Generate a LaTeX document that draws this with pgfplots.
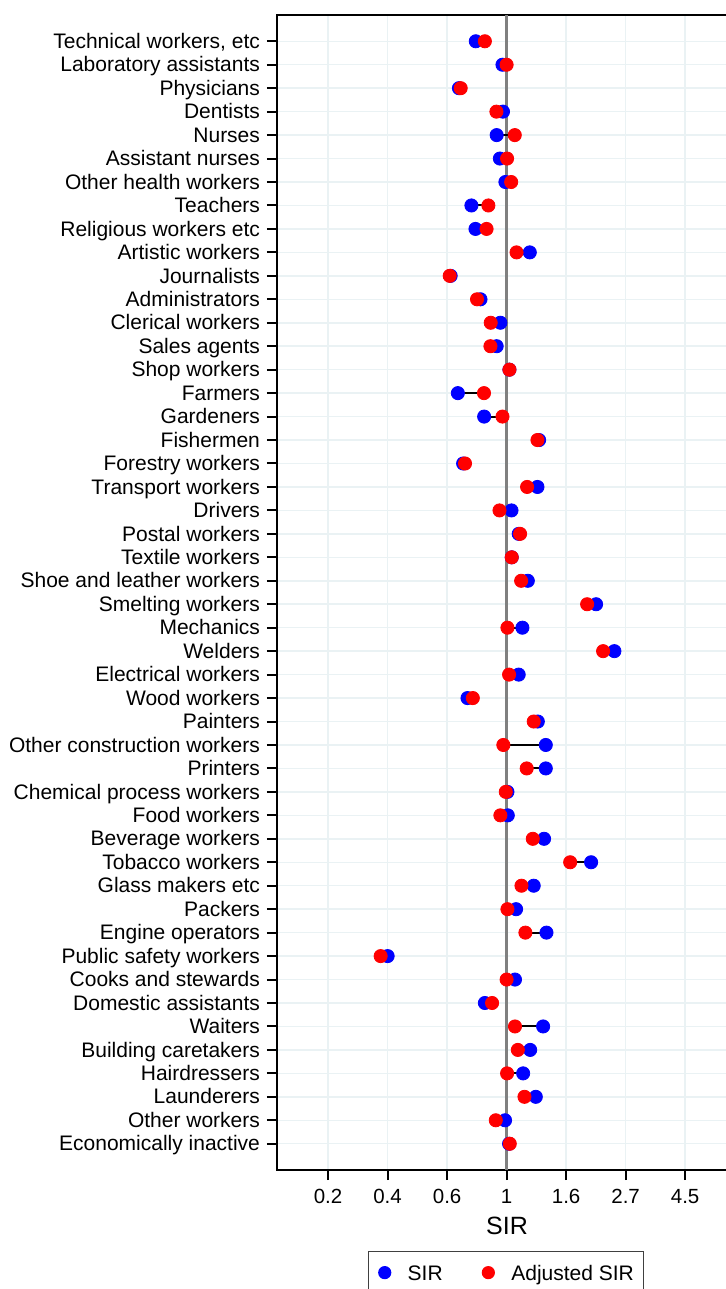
\documentclass[border=0pt]{standalone}
\usepackage{pgfplots}
\pgfplotsset{compat=1.18}
\usepackage{pgfplotstable}
\usepackage{fontspec}
\setmainfont{Liberation Sans}
\definecolor{gridc}{RGB}{234,242,244}
\definecolor{refline}{RGB}{128,128,128}

\pgfplotstableread{
row sir adj
1 0.772 0.833
2 0.966 1.000
3 0.670 0.680
4 0.970 0.918
5 0.920 1.071
6 0.945 1.004
7 0.990 1.039
8 0.744 0.858
9 0.770 0.845
10 1.215 1.087
11 0.625 0.620
12 0.803 0.780
13 0.949 0.875
14 0.920 0.873
15 1.024 1.024
16 0.664 0.827
17 0.828 0.966
18 1.314 1.296
19 0.694 0.705
20 1.296 1.188
21 1.042 0.942
22 1.107 1.120
23 1.044 1.044
24 1.195 1.130
25 2.121 1.968
26 1.142 1.007
27 2.474 2.250
28 1.107 1.021
29 0.720 0.753
30 1.300 1.256
31 1.390 0.973
32 1.390 1.184
33 1.007 0.993
34 1.010 0.949
35 1.370 1.246
36 2.034 1.706
37 1.256 1.133
38 1.083 1.007
39 1.398 1.171
40 0.368 0.347
41 1.073 1.000
42 0.833 0.885
43 1.359 1.073
44 1.219 1.099
45 1.149 1.004
46 1.278 1.162
47 0.987 0.913
48 1.021 1.027
}\datatable

\begin{document}
\begin{tikzpicture}
\begin{axis}[
  at={(0pt,0pt)}, anchor=south west, scale only axis,
  width=230pt, height=577.5pt,
  xmode=log, xmin=0.14524, xmax=6.932,
  ymin=-0.12, ymax=49.12, y dir=reverse,
  xtick={0.22313,0.36788,0.60653,1,1.64872,2.71828,4.48169},
  xticklabels={0.2,0.4,0.6,1,1.6,2.7,4.5},
  minor xtick={},
  ytick={1,...,48},
  yticklabels={{Technical workers, etc},Laboratory assistants,Physicians,Dentists,Nurses,Assistant nurses,Other health workers,Teachers,Religious workers etc,Artistic workers,Journalists,Administrators,Clerical workers,Sales agents,Shop workers,Farmers,Gardeners,Fishermen,Forestry workers,Transport workers,Drivers,Postal workers,Textile workers,Shoe and leather workers,Smelting workers,Mechanics,Welders,Electrical workers,Wood workers,Painters,Other construction workers,Printers,Chemical process workers,Food workers,Beverage workers,Tobacco workers,Glass makers etc,Packers,Engine operators,Public safety workers,Cooks and stewards,Domestic assistants,Waiters,Building caretakers,Hairdressers,Launderers,Other workers,Economically inactive},
  tick pos=left,
  tick align=outside,
  major tick length=5pt,
  major tick style={black, line width=1pt},
  axis line style={black, line width=1pt},
  xmajorgrids, ymajorgrids,
  grid style={gridc, line width=0.75pt},
  x tick label style={font=\fontsize{10.25}{12}\selectfont, yshift=-1pt},
  y tick label style={font=\fontsize{10.5}{12.5}\selectfont, text height=0.926em, text depth=0.21em},
  xlabel={SIR},
  xlabel style={font=\fontsize{12.5}{15}\selectfont},
  legend style={at={(0.1978,-0.0701)}, anchor=north west, draw=black!75, line width=0.65pt,
    inner xsep=4.75pt, inner ysep=5.25pt, font=\fontsize{10.5}{12.5}\selectfont,
    nodes={inner sep=0pt, text height=7.5pt, text depth=0pt, anchor=west},
    /tikz/every even column/.append style={column sep=19.5pt}},
  legend columns=2,
  legend cell align=left,
  legend image code/.code={\path[draw=none, fill=none] (-3.25pt,-5.25pt) rectangle (11.5pt,5.25pt); \fill[#1, draw=none] (0pt,0pt) circle (3.3pt);},
]
\addplot[refline, line width=1.35pt, forget plot] coordinates {(1,-0.12) (1,49.12)};
\addplot[blue, only marks, mark=*, mark size=3.3pt, mark options={draw=none, fill=blue}] table[x=sir, y=row]{\datatable};
\addlegendentry{SIR}
\addplot[red, only marks, mark=*, mark size=3.3pt, mark options={draw=none, fill=red}] table[x=adj, y=row]{\datatable};
\addlegendentry{Adjusted SIR}
\addplot[black, line width=1pt, forget plot] coordinates {(0.772,1) (0.833,1)};
\addplot[black, line width=1pt, forget plot] coordinates {(0.966,2) (1.000,2)};
\addplot[black, line width=1pt, forget plot] coordinates {(0.670,3) (0.680,3)};
\addplot[black, line width=1pt, forget plot] coordinates {(0.970,4) (0.918,4)};
\addplot[black, line width=1pt, forget plot] coordinates {(0.920,5) (1.071,5)};
\addplot[black, line width=1pt, forget plot] coordinates {(0.945,6) (1.004,6)};
\addplot[black, line width=1pt, forget plot] coordinates {(0.990,7) (1.039,7)};
\addplot[black, line width=1pt, forget plot] coordinates {(0.744,8) (0.858,8)};
\addplot[black, line width=1pt, forget plot] coordinates {(0.770,9) (0.845,9)};
\addplot[black, line width=1pt, forget plot] coordinates {(1.215,10) (1.087,10)};
\addplot[black, line width=1pt, forget plot] coordinates {(0.625,11) (0.620,11)};
\addplot[black, line width=1pt, forget plot] coordinates {(0.803,12) (0.780,12)};
\addplot[black, line width=1pt, forget plot] coordinates {(0.949,13) (0.875,13)};
\addplot[black, line width=1pt, forget plot] coordinates {(0.920,14) (0.873,14)};
\addplot[black, line width=1pt, forget plot] coordinates {(1.024,15) (1.024,15)};
\addplot[black, line width=1pt, forget plot] coordinates {(0.664,16) (0.827,16)};
\addplot[black, line width=1pt, forget plot] coordinates {(0.828,17) (0.966,17)};
\addplot[black, line width=1pt, forget plot] coordinates {(1.314,18) (1.296,18)};
\addplot[black, line width=1pt, forget plot] coordinates {(0.694,19) (0.705,19)};
\addplot[black, line width=1pt, forget plot] coordinates {(1.296,20) (1.188,20)};
\addplot[black, line width=1pt, forget plot] coordinates {(1.042,21) (0.942,21)};
\addplot[black, line width=1pt, forget plot] coordinates {(1.107,22) (1.120,22)};
\addplot[black, line width=1pt, forget plot] coordinates {(1.044,23) (1.044,23)};
\addplot[black, line width=1pt, forget plot] coordinates {(1.195,24) (1.130,24)};
\addplot[black, line width=1pt, forget plot] coordinates {(2.121,25) (1.968,25)};
\addplot[black, line width=1pt, forget plot] coordinates {(1.142,26) (1.007,26)};
\addplot[black, line width=1pt, forget plot] coordinates {(2.474,27) (2.250,27)};
\addplot[black, line width=1pt, forget plot] coordinates {(1.107,28) (1.021,28)};
\addplot[black, line width=1pt, forget plot] coordinates {(0.720,29) (0.753,29)};
\addplot[black, line width=1pt, forget plot] coordinates {(1.300,30) (1.256,30)};
\addplot[black, line width=1pt, forget plot] coordinates {(1.390,31) (0.973,31)};
\addplot[black, line width=1pt, forget plot] coordinates {(1.390,32) (1.184,32)};
\addplot[black, line width=1pt, forget plot] coordinates {(1.007,33) (0.993,33)};
\addplot[black, line width=1pt, forget plot] coordinates {(1.010,34) (0.949,34)};
\addplot[black, line width=1pt, forget plot] coordinates {(1.370,35) (1.246,35)};
\addplot[black, line width=1pt, forget plot] coordinates {(2.034,36) (1.706,36)};
\addplot[black, line width=1pt, forget plot] coordinates {(1.256,37) (1.133,37)};
\addplot[black, line width=1pt, forget plot] coordinates {(1.083,38) (1.007,38)};
\addplot[black, line width=1pt, forget plot] coordinates {(1.398,39) (1.171,39)};
\addplot[black, line width=1pt, forget plot] coordinates {(0.368,40) (0.347,40)};
\addplot[black, line width=1pt, forget plot] coordinates {(1.073,41) (1.000,41)};
\addplot[black, line width=1pt, forget plot] coordinates {(0.833,42) (0.885,42)};
\addplot[black, line width=1pt, forget plot] coordinates {(1.359,43) (1.073,43)};
\addplot[black, line width=1pt, forget plot] coordinates {(1.219,44) (1.099,44)};
\addplot[black, line width=1pt, forget plot] coordinates {(1.149,45) (1.004,45)};
\addplot[black, line width=1pt, forget plot] coordinates {(1.278,46) (1.162,46)};
\addplot[black, line width=1pt, forget plot] coordinates {(0.987,47) (0.913,47)};
\addplot[black, line width=1pt, forget plot] coordinates {(1.021,48) (1.027,48)};
\end{axis}
\pgfresetboundingbox
\useasboundingbox (-138.5pt,-59.5pt) rectangle (224.5pt,585pt);
\end{tikzpicture}
\end{document}
